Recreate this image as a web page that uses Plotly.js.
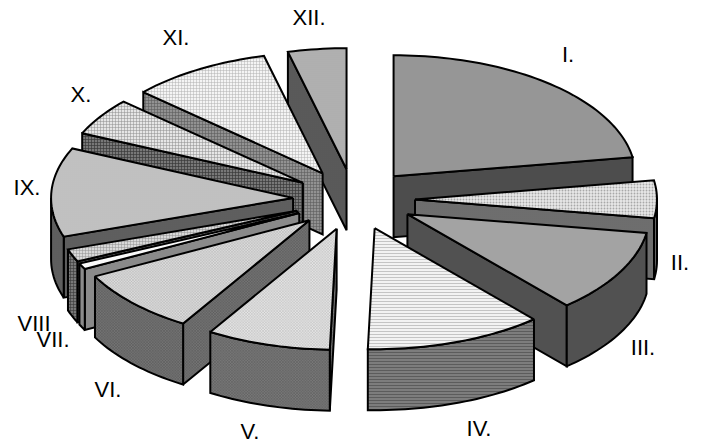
<!DOCTYPE html>
<html><head><meta charset="utf-8">
<style>html,body{margin:0;padding:0;background:#fff}#c{width:702px;height:447px}</style>
<script src="https://cdn.plot.ly/plotly-3.0.1.min.js"></script>
</head><body><div id="c"></div>
<script>
// data
const categories = ['I.','II.','III.','IV.','V.','VI.','VII.','VIII','IX.','X.','XI.','XII.'];
const values = [22.5,5,11.1,11.9,8.3,8.6,0.8,1.7,11.9,5,9.4,3.9];
// label placement (axis units = pixels)
const labelX = [568,680,643,479,250,108,53,34,27,81,176,309];
const labelY = [56,264,349,430,433,391,341,325,189,96,39,19];
// styles: [shape,size,bg,fg,solidity]
const topStyles = [
 ['',0,'#969696'],
 ['.',3,'#e8e8e8','#a8a8a8',.3],
 ['.',2,'#b4b4b4','#8a8a8a',.45],
 ['-',3,'#f2f2f2','#c4c4c4',.35],
 ['x',2,'#e4e4e4','#a4a4a4',.3],
 ['x',2,'#dcdcdc','#9c9c9c',.3],
 ['.',2,'#ffffff','#ececec',.3],
 ['+',3,'#d8d8d8','#909090',.3],
 ['.',2,'#d0d0d0','#a8a8a8',.4],
 ['+',3,'#e6e6e6','#8c8c8c',.3],
 ['+',3,'#f4f4f4','#b0b0b0',.3],
 ['-',2,'#bcbcbc','#9a9a9a',.4]
];
const sideStyles = [
 ['',0,'#4d4d4d'],
 ['.',2,'#808080','#505050',.4],
 ['.',2,'#5c5c5c','#404040',.45],
 ['-',3,'#848484','#5c5c5c',.45],
 ['x',2,'#787878','#505050',.35],
 ['x',2,'#747474','#4c4c4c',.35],
 ['',0,'#8a8a8a'],
 ['+',3,'#787878','#383838',.35],
 ['.',2,'#6c6c6c','#484848',.4],
 ['+',3,'#787878','#383838',.4],
 ['+',3,'#929292','#5c5c5c',.35],
 ['.',2,'#646464','#484848',.4]
];
// pie geometry
const cx=354, cy=199.5, rx=242, ry=121, depth=61, explode=0.25;
const drawOrder=[11,10,9,8,7,6,5,4,0,1,2,3];

const total=values.reduce((a,b)=>a+b,0);
let acc=0;
const spans=values.map(v=>{const s=acc/total*360;acc+=v;return [s,acc/total*360];});
const rad=d=>d*Math.PI/180;
function pt(d,ox,oy,dz){return [ox+rx*Math.sin(rad(d)),oy-ry*Math.cos(rad(d))+dz];}
function arc(a,b,ox,oy,dz){const n=Math.max(2,Math.ceil(Math.abs(b-a)/1.5));const r=[];for(let i=0;i<=n;i++)r.push(pt(a+(b-a)*i/n,ox,oy,dz));return r;}
function fillOf(st){
  const o={fillcolor:st[2]};
  if(st[0]) o.fillpattern={shape:st[0],size:st[1],bgcolor:st[2],fgcolor:st[3],solidity:st[4]};
  return o;
}
function poly(pts,st){
  const c=pts.concat([pts[0]]);
  return Object.assign({type:'scatter',mode:'lines',x:c.map(p=>p[0]),y:c.map(p=>p[1]),fill:'toself',
    line:{color:'#000',width:2,simplify:false},hoverinfo:'skip',showlegend:false},fillOf(st));
}
const traces=[];
drawOrder.forEach(i=>{
  const [s,e]=spans[i], m=(s+e)/2;
  const ox=cx+explode*244*Math.sin(rad(m)), oy=cy-explode*122*Math.cos(rad(m));
  const ps=pt(s,ox,oy,0), pe=pt(e,ox,oy,0);
  if(ps[0]<ox-0.01) traces.push(poly([[ox,oy],ps,[ps[0],ps[1]+depth],[ox,oy+depth]],sideStyles[i]));
  if(pe[0]>ox+0.01) traces.push(poly([[ox,oy],pe,[pe[0],pe[1]+depth],[ox,oy+depth]],sideStyles[i]));
  const a=Math.max(s,90), b=Math.min(e,270);
  if(b>a) traces.push(poly(arc(a,b,ox,oy,0).concat(arc(b,a,ox,oy,depth)),sideStyles[i]));
  traces.push(poly([[ox,oy]].concat(arc(s,e,ox,oy,0)),topStyles[i]));
});
traces.push({type:'scatter',mode:'text',x:labelX,y:labelY,text:categories,textposition:'middle center',
  textfont:{family:'Liberation Sans, Arial, sans-serif',size:22,color:'#000'},hoverinfo:'skip',showlegend:false,cliponaxis:false});
Plotly.newPlot('c',traces,{
  width:702,height:447,margin:{l:0,r:0,t:0,b:0},paper_bgcolor:'#fff',plot_bgcolor:'#fff',showlegend:false,
  xaxis:{range:[0,702],visible:false,fixedrange:true},
  yaxis:{range:[447,0],visible:false,fixedrange:true}
},{displayModeBar:false,staticPlot:true});
</script></body></html>
